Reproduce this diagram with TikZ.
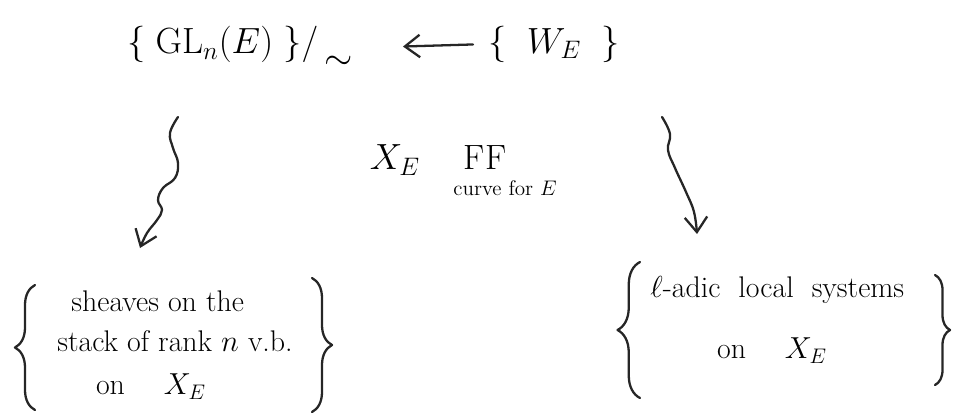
\documentclass[tikz,border=0pt]{standalone}
\usetikzlibrary{decorations.pathreplacing,arrows.meta}
\begin{document}
\begin{tikzpicture}[x=0.02cm,y=-0.02cm,
  every node/.style={inner sep=0pt},
  pen/.style={line width=1.3pt, line cap=round, line join=round, black!85},
  tip/.style={-{Straight Barb[length=3mm,width=4.5mm,line width=1.3pt]}},
  bigtxt/.style={font=\fontsize{20}{24}\selectfont},
  midtxt/.style={font=\fontsize{17}{22.8}\selectfont},
  smalltxt/.style={font=\fontsize{12}{14}\selectfont},
  bracestyle/.style={pen, decorate, decoration={brace, amplitude=#1}}]
\useasboundingbox (0,0) rectangle (956,414);

% top row
\node[bigtxt, minimum width=3.6cm, minimum height=1cm] (tl) at (240,48)
  {$\{\;\mathrm{GL}_n(E)\;\}\big/\mkern3mu\raisebox{-9pt}{$\sim$}$};
\node[bigtxt, minimum width=2.2cm, minimum height=1cm] (tr) at (554,44)
  {$\{\;\;W_E\;\;\}$};
\draw[pen,tip,shorten <=0.3cm,shorten >=1.0cm] (tr.west) -- (tl.east);

% middle
\node[bigtxt] (xe) at (395,160) {$X_E$};
\node[bigtxt] (ff) at (485,158) {FF};
\node[smalltxt] (curve) at (505,188) {curve for $E$};

% bottom left
\node[midtxt, align=left, anchor=north west] (bl) at (57,290)
  {\hspace{8pt}sheaves on the\\stack of rank $n$ v.b.\\[2pt]\hspace{22pt}on \quad $X_E$};
\draw[bracestyle=0.4cm] (35,410) -- (35,285);
\draw[bracestyle=0.4cm] (312,278) -- (312,412);

% bottom right
\node[midtxt, align=left, anchor=north west] (br) at (650,276)
  {$\ell$-adic \ local \ systems\\[12pt]\hspace{38pt}on \quad $X_E$};
\draw[bracestyle=0.45cm] (640,398) -- (640,262);
\draw[bracestyle=0.3cm] (935,275) -- (935,385);

% wavy connectors
\coordinate (ls) at (178,117);
\coordinate (le) at (140,248);
\draw[pen,tip] plot[smooth, tension=0.7] coordinates {(ls) (170,133) (173,148) (178,163) (175,178) (163,188) (158,200) (162,210) (157,220) (147,233) (le)};
\coordinate (rs) at (662,117);
\coordinate (re) at (697,234);
\draw[pen,tip] plot[smooth, tension=0.7] coordinates {(rs) (670,134) (668,150) (675,168) (686,192) (694,212) (re)};
\end{tikzpicture}
\end{document}
